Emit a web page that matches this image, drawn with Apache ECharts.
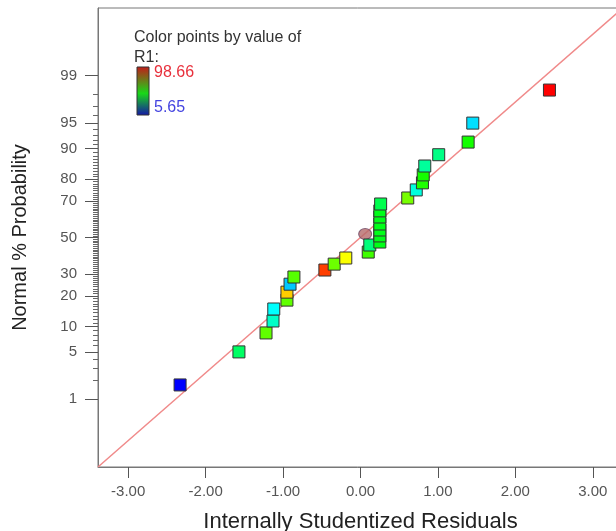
<!DOCTYPE html>
<html>
<head>
<meta charset="utf-8">
<script src="https://cdn.jsdelivr.net/npm/echarts@6/dist/echarts.min.js"></script>
<style>
  html, body { margin: 0; padding: 0; background: #fff; }
  #main { width: 616px; height: 531px; }
</style>
</head>
<body>
<div id="main"></div>
<script>
// internally studentized residuals, sorted
const residuals = [-2.33, -1.57, -1.22, -1.13, -1.12, -0.95, -0.95, -0.91, -0.86, -0.46,
                   -0.34, -0.19, 0.10, 0.12, 0.25, 0.25, 0.25, 0.25, 0.25, 0.25,
                   0.26, 0.61, 0.72, 0.80, 0.81, 0.83, 1.01, 1.39, 1.45, 2.44]
// normal % probability of each residual
const probability = [1.7, 5.0, 8.5, 11.5, 15.2, 18.4, 21.6, 25.1, 28.5, 32.0,
                     35.1, 38.4, 41.7, 45.7, 47.4, 50.9, 54.3, 57.7, 61.6, 64.9,
                     68.5, 71.5, 75.3, 78.4, 81.6, 84.8, 88.3, 91.5, 95.0, 98.3]
// R1 value used for colouring the points
const r1Values = [5.65, 43, 61, 34, 29, 61, 80, 24, 60, 93,
                  62, 75, 58, 41, 50, 50, 50, 50, 50, 50,
                  45, 63, 32, 55, 54, 38, 40, 54, 26, 98.66]
// highlighted point (circle)
const markedPoint = [0.06, 52.0]
const r1Range = [5.65, 98.66]
const xTicks = [-3, -2, -1, 0, 1, 2, 3]
const yLabels = [1, 5, 10, 20, 30, 50, 70, 80, 90, 95, 99]

// inverse normal cdf (Acklam)
function probit(p) {
  const a = [-39.69683028665376, 220.9460984245205, -275.9285104469687, 138.3577518672690, -30.66479806614716, 2.506628277459239]
  const b = [-54.47609879822406, 161.5858368580409, -155.6989798598866, 66.80131188771972, -13.28068155288572]
  const c = [-0.007784894002430293, -0.3223964580411365, -2.400758277161838, -2.549732539343734, 4.374664141464968, 2.938163982698783]
  const d = [0.007784695709041462, 0.3224671290700398, 2.445134137142996, 3.754408661907416]
  const pl = 0.02425
  let q, r
  if (p < pl) {
    q = Math.sqrt(-2 * Math.log(p))
    return (((((c[0]*q+c[1])*q+c[2])*q+c[3])*q+c[4])*q+c[5]) / ((((d[0]*q+d[1])*q+d[2])*q+d[3])*q+1)
  }
  if (p > 1 - pl) {
    q = Math.sqrt(-2 * Math.log(1 - p))
    return -(((((c[0]*q+c[1])*q+c[2])*q+c[3])*q+c[4])*q+c[5]) / ((((d[0]*q+d[1])*q+d[2])*q+d[3])*q+1)
  }
  q = p - 0.5
  r = q * q
  return (((((a[0]*r+a[1])*r+a[2])*r+a[3])*r+a[4])*r+a[5])*q / (((((b[0]*r+b[1])*r+b[2])*r+b[3])*r+b[4])*r+1)
}

const minorTicks = []
for (let p = 2; p <= 98; p++) {
  if (yLabels.indexOf(p) < 0) minorTicks.push(probit(p / 100))
}
const labelZ = yLabels.map(p => probit(p / 100))

const chart = echarts.init(document.getElementById('main'))
const font = '"Liberation Sans", Arial, sans-serif'

const option = {
  animation: false,
  grid: {
    left: 98, top: 8, width: 525, height: 459,
    outerBoundsMode: 'none', containLabel: false,
    show: true, borderColor: '#777', borderWidth: 1
  },
  xAxis: {
    type: 'value', min: -3.39, max: 3.39,
    name: 'Internally Studentized Residuals',
    nameLocation: 'middle', nameGap: 44,
    nameTextStyle: { fontFamily: font, fontSize: 22, color: '#222' },
    axisLine: { onZero: false, lineStyle: { color: '#777' } },
    axisTick: { customValues: xTicks, length: 11, inside: false, lineStyle: { color: '#555' } },
    axisLabel: {
      customValues: xTicks, margin: 17,
      fontFamily: font, fontSize: 15, color: '#555',
      formatter: v => v.toFixed(2)
    },
    splitLine: { show: false }
  },
  yAxis: [{
    type: 'value', min: -3.3, max: 3.3,
    name: 'Normal % Probability',
    nameLocation: 'middle', nameGap: 68, nameRotate: 90,
    nameTextStyle: { fontFamily: font, fontSize: 20, color: '#222' },
    axisLine: { show: true, onZero: false, lineStyle: { color: '#777' } },
    axisTick: { customValues: labelZ, length: 13, lineStyle: { color: '#555' } },
    axisLabel: {
      customValues: labelZ, margin: 21,
      fontFamily: font, fontSize: 15, color: '#555',
      formatter: v => {
        let best = 0
        labelZ.forEach((z, i) => { if (Math.abs(z - v) < Math.abs(labelZ[best] - v)) best = i })
        return String(yLabels[best])
      }
    },
    splitLine: { show: false }
  }, {
    type: 'value', min: -3.3, max: 3.3, position: 'left',
    axisLine: { show: false, onZero: false },
    axisTick: { show: true, customValues: minorTicks, length: 5, lineStyle: { color: '#666' } },
    axisLabel: { show: false, customValues: minorTicks },
    splitLine: { show: false }
  }],
  visualMap: {
    show: false, type: 'continuous', dimension: 2, seriesIndex: 1,
    min: r1Range[0], max: r1Range[1],
    inRange: { color: ['#0000ff', '#00ffff', '#00ff00', '#ffff00', '#ff0000'] }
  },
  series: [{
    type: 'line', silent: true, symbol: 'none', z: 1,
    lineStyle: { color: '#f08a8a', width: 1.5 },
    data: [[-3.39, -3.3], [3.39, 3.3]]
  }, {
    type: 'scatter', symbol: 'rect', symbolSize: 12, z: 3,
    itemStyle: { borderColor: '#333', borderWidth: 1, opacity: 1 },
    data: residuals.map((x, i) => [x, probit(probability[i] / 100), r1Values[i]])
  }, {
    type: 'scatter', symbol: 'circle', symbolSize: [13, 11], z: 2,
    itemStyle: { color: '#b56a6a', borderColor: '#6e4a66', borderWidth: 1 },
    data: [[markedPoint[0], probit(markedPoint[1] / 100)]]
  }],
  graphic: [
    { type: 'text', left: 134, top: 30,
      style: { text: 'Color points by value of', font: '16px ' + font, fill: '#333' } },
    { type: 'text', left: 134, top: 50,
      style: { text: 'R1:', font: '16px ' + font, fill: '#333' } },
    { type: 'rect', shape: { x: 137, y: 67, width: 12, height: 48 },
      style: {
        stroke: '#333', lineWidth: 1,
        fill: new echarts.graphic.LinearGradient(0, 0, 0, 1, [
          { offset: 0, color: '#c41a1a' },
          { offset: 0.55, color: '#18d818' },
          { offset: 1, color: '#1414a8' }
        ])
      } },
    { type: 'text', left: 154, top: 65,
      style: { text: '98.66', font: '16px ' + font, fill: '#e8303c' } },
    { type: 'text', left: 154, top: 100,
      style: { text: '5.65', font: '16px ' + font, fill: '#4444e0' } }
  ]
}
chart.setOption(option)
</script>
</body>
</html>
